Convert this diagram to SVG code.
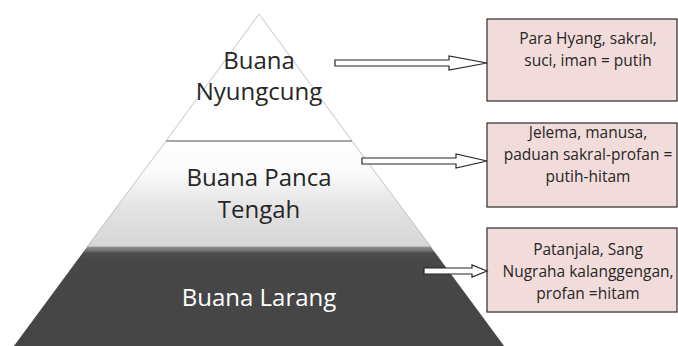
<svg xmlns="http://www.w3.org/2000/svg" width="678" height="346" viewBox="0 0 678 346">
<defs>
<linearGradient id="gMid" gradientUnits="userSpaceOnUse" x1="0" y1="141" x2="0" y2="247">
<stop offset="0" stop-color="#ffffff"/>
<stop offset="0.3" stop-color="#fafafa"/>
<stop offset="0.65" stop-color="#e2e2e2"/>
<stop offset="1" stop-color="#d6d6d6"/>
</linearGradient>
<linearGradient id="gBot" gradientUnits="userSpaceOnUse" x1="0" y1="247" x2="0" y2="346">
<stop offset="0" stop-color="#7e7e7e"/>
<stop offset="0.035" stop-color="#777777"/>
<stop offset="0.06" stop-color="#4e4e4e"/>
<stop offset="0.12" stop-color="#474747"/>
<stop offset="1" stop-color="#454545"/>
</linearGradient>
</defs>
<style>
.lbl{font-family:"Open Sans","Liberation Sans",sans-serif;font-size:24px;text-anchor:middle;fill:#262626}
.lblw{fill:#ffffff}
.box{fill:#f2dcdb;stroke:#2b2b2b;stroke-width:1.2}
.bt{font-family:"Open Sans","Liberation Sans",sans-serif;font-size:15.5px;text-anchor:middle;fill:#262626}
.arr{fill:#ffffff;stroke:#262626;stroke-width:1.2;stroke-linejoin:miter}
</style>
<rect width="678" height="346" fill="#ffffff"/>
<g id="layer-top">
<polygon points="259,14 352,141 166,141" fill="#ffffff" stroke="#b4b4b4" stroke-width="0.8"/>
<text class="lbl" x="259" y="69">Buana</text>
<text class="lbl" x="259" y="100">Nyungcung</text>
</g>
<g id="layer-mid">
<polygon points="166,141 352,141 431,247 87,247" fill="url(#gMid)" stroke="#b4b4b4" stroke-width="0.8"/>
<line x1="166" y1="141" x2="352" y2="141" stroke="#a6a6a6" stroke-width="2"/>
<text class="lbl" x="259" y="186">Buana Panca</text>
<text class="lbl" x="259" y="218">Tengah</text>
</g>
<g id="layer-bot">
<polygon points="87,247 431,247 510,354 8,354" fill="url(#gBot)"/>
<line x1="87" y1="247.5" x2="431" y2="247.5" stroke="#8c8c8c" stroke-width="1.5"/>
<text class="lbl lblw" x="259" y="306">Buana Larang</text>
</g>
<g id="box1">
<rect class="box" x="487" y="19" width="190" height="82"/>
<text class="bt" x="588" y="44">Para Hyang, sakral,</text>
<text class="bt" x="588" y="66">suci, iman = putih</text>
</g>
<g id="box2">
<rect class="box" x="487" y="123" width="190" height="84"/>
<text class="bt" x="588" y="138">Jelema, manusa,</text>
<text class="bt" x="588" y="160">paduan sakral-profan =</text>
<text class="bt" x="588" y="182">putih-hitam</text>
</g>
<g id="box3">
<rect class="box" x="487" y="228" width="190" height="84"/>
<text class="bt" x="588" y="255">Patanjala, Sang</text>
<text class="bt" x="588" y="277">Nugraha kalanggengan,</text>
<text class="bt" x="588" y="299">profan =hitam</text>
</g>
<g id="connectors">
<polygon class="arr" points="335,60 449,60 449,56 487,63 449,70 449,66 335,66"/>
<polygon class="arr" points="362,158 456,158 456,154 487,161 456,168 456,164 362,164"/>
<polygon class="arr" points="424,268 472,268 472,265 487,271 472,277 472,274 424,274"/>
</g>
</svg>
